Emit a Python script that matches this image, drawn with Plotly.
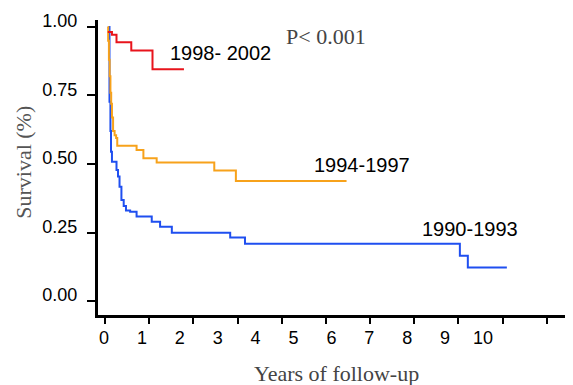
import plotly.graph_objects as go

# ---- data (x in years of follow-up, y = survival) ----
blue_t = [0.10, 0.145, 0.17, 0.185, 0.21, 0.33, 0.37, 0.41, 0.46, 0.52, 0.58, 0.69, 0.86, 1.26, 1.48, 1.79, 3.33, 3.72, 9.39, 9.60, 10.63]
blue_s = [1.00, 0.727, 0.62, 0.545, 0.508, 0.478, 0.454, 0.417, 0.369, 0.347, 0.330, 0.326, 0.308, 0.289, 0.271, 0.249, 0.232, 0.209, 0.165, 0.122, 0.122]

orange_t = [0.10, 0.11, 0.13, 0.15, 0.17, 0.19, 0.21, 0.24, 0.28, 0.32, 0.35, 0.86, 1.04, 1.39, 2.91, 3.48, 6.40]
orange_s = [1.00, 0.95, 0.88, 0.82, 0.76, 0.72, 0.67, 0.62, 0.605, 0.595, 0.567, 0.551, 0.521, 0.505, 0.476, 0.438, 0.438]

red_t = [0.10, 0.21, 0.33, 0.72, 1.28, 2.11]
red_s = [0.982, 0.972, 0.944, 0.914, 0.846, 0.846]

series_names = ["1990-1993", "1994-1997", "1998- 2002"]
series_colors = ["#1f4ff0", "#f7a21b", "#e8141c"]

x_tick_vals = [0, 1, 2, 3, 4, 5, 6, 7, 8, 9, 10]
x_tick_text = ["0", "1", "2", "3", "4", "5", "6", "7", "8", "9", "10"]
y_tick_vals = [0.0, 0.25, 0.5, 0.75, 1.0]
y_tick_text = ["0.00", "0.25", "0.50", "0.75", "1.00"]

x_title = "Years of follow-up"
y_title = "Survival (%)"
p_text = "P< 0.001"

SANS = "Liberation Sans, Arial, sans-serif"
SERIF = "Liberation Serif, Times New Roman, serif"

Y_RANGE = [-0.0511, 1.0255]
LABEL_SHIFT = 0.022  # tick labels sit slightly above their tick marks in the original

fig = go.Figure()
for t, s, name, col in zip([blue_t, orange_t, red_t], [blue_s, orange_s, red_s], series_names, series_colors):
    fig.add_trace(go.Scatter(x=t, y=s, mode="lines", name=name,
                             line=dict(shape="hv", color=col, width=2)))

# invisible trace to carry the secondary (tick-mark / label) axes
fig.add_trace(go.Scatter(x=[None], y=[None], xaxis="x2", yaxis="y2", showlegend=False, hoverinfo="skip"))

# curve labels
label_pos = [(8.34, 0.263), (5.48, 0.496), (1.69, 0.906)]
for (lx, ly), name in zip(label_pos, series_names):
    fig.add_annotation(x=lx, y=ly, xref="x", yref="y", text=name, showarrow=False,
                       xanchor="left", yanchor="middle",
                       font=dict(family=SANS, size=20, color="black"))
fig.add_annotation(x=4.75, y=0.965, xref="x", yref="y", text=p_text, showarrow=False,
                   xanchor="left", yanchor="middle",
                   font=dict(family=SERIF, size=22, color="#444444"))

# axis titles (paper coordinates)
fig.add_annotation(x=0.503, y=-0.197, xref="paper", yref="paper", text=x_title, showarrow=False,
                   xanchor="center", yanchor="middle",
                   font=dict(family=SERIF, size=22, color="#444444"))
fig.add_annotation(x=-0.156, y=0.519, xref="paper", yref="paper", text=y_title, showarrow=False,
                   textangle=-90, xanchor="center", yanchor="middle",
                   font=dict(family=SERIF, size=22, color="#555555"))

fig.update_layout(
    width=565, height=377,
    margin=dict(l=90, r=0, t=12, b=70, autoexpand=False),
    paper_bgcolor="white", plot_bgcolor="white",
    showlegend=False, hovermode=False,
    xaxis=dict(range=[-0.158, 12.375], tickvals=x_tick_vals, ticktext=x_tick_text,
               ticks="outside", ticklen=4, tickcolor="rgba(0,0,0,0)", automargin=False,
               showline=True, linecolor="black", linewidth=3,
               showgrid=False, zeroline=False,
               tickfont=dict(family=SANS, size=18, color="black")),
    xaxis2=dict(overlaying="x", anchor="y", side="bottom", automargin=False,
                range=[-0.158, 10.595], tickvals=x_tick_vals,
                ticks="outside", ticklen=8, tickwidth=2, tickcolor="black",
                showticklabels=False, showline=False, showgrid=False, zeroline=False),
    yaxis=dict(range=Y_RANGE, tickvals=y_tick_vals, automargin=False,
               ticks="outside", ticklen=8, tickwidth=2, tickcolor="black",
               showticklabels=False, showline=True, linecolor="black", linewidth=3,
               showgrid=False, zeroline=False),
    yaxis2=dict(overlaying="y", anchor="x", side="left", automargin=False,
                range=Y_RANGE, tickvals=[v + LABEL_SHIFT for v in y_tick_vals], ticktext=y_tick_text,
                ticks="outside", ticklen=16, tickcolor="rgba(0,0,0,0)",
                showline=False, showgrid=False, zeroline=False,
                tickfont=dict(family=SANS, size=18, color="black")),
)

fig.write_html("out.html")
